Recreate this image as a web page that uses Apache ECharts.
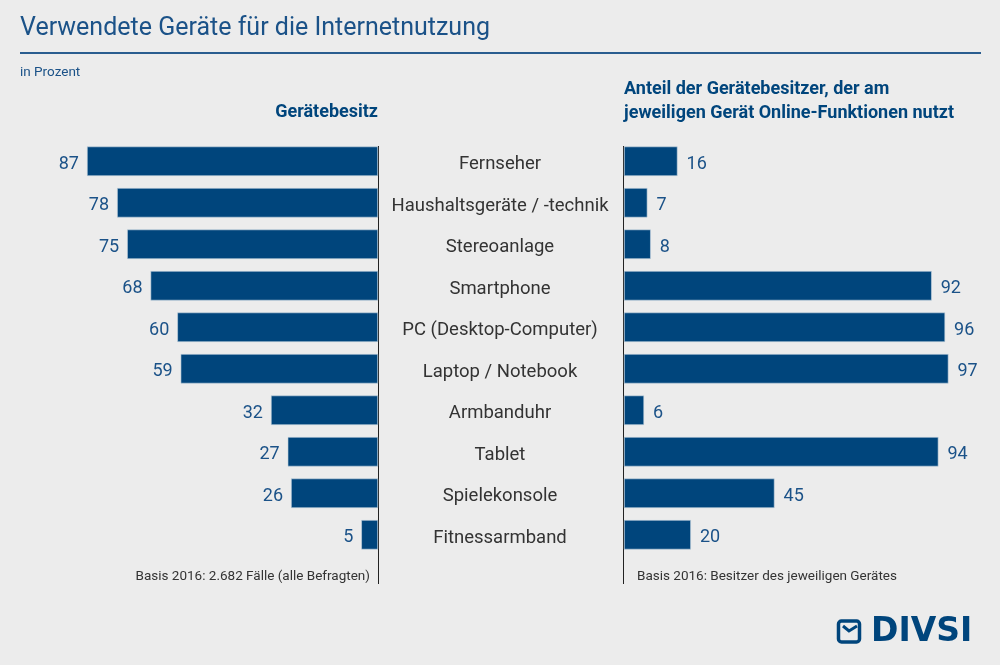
<!DOCTYPE html>
<html>
<head>
<meta charset="utf-8">
<script src="https://cdn.jsdelivr.net/npm/echarts@6/dist/echarts.min.js"></script>
<style>
html,body{margin:0;padding:0;background:#ececec;}
#chart{width:1000px;height:665px;}
</style>
</head>
<body>
<div id="chart"></div>
<script>
const categories = ["Fernseher","Haushaltsgeräte / -technik","Stereoanlage","Smartphone","PC (Desktop-Computer)","Laptop / Notebook","Armbanduhr","Tablet","Spielekonsole","Fitnessarmband"];
const ownership = [87,78,75,68,60,59,32,27,26,5];
const onlineUse = [16,7,8,92,96,97,6,94,45,20];

const FONT = 'Roboto, "Noto Sans", sans-serif';
const BLUE = '#00457c';
const TXTBLUE = '#1b5288';
const GRAY = '#333333';

const chart = echarts.init(document.getElementById('chart'));
const gridTop = 140.5, gridH = 415;
chart.setOption({
  backgroundColor: '#ececec',
  animation: false,
  textStyle: {fontFamily: FONT},
  grid: [
    {left: 43.5, width: 334.5, top: gridTop, height: gridH},
    {left: 624, width: 334.5, top: gridTop, height: gridH}
  ],
  xAxis: [
    {gridIndex: 0, type: 'value', min: 0, max: 100, inverse: true, show: false},
    {gridIndex: 1, type: 'value', min: 0, max: 100, show: false}
  ],
  yAxis: [
    {gridIndex: 0, type: 'category', data: categories, inverse: true,
     axisLine: {show: false}, axisTick: {show: false}, axisLabel: {show: false}, splitLine: {show: false}},
    {gridIndex: 1, type: 'category', data: categories, inverse: true,
     axisLine: {show: false}, axisTick: {show: false}, splitLine: {show: false},
     axisLabel: {show: true, align: 'center', margin: 124,
                 formatter: v => '{c|' + v + '}',
                 rich: {c: {color: GRAY, fontSize: 18.5, fontFamily: FONT, padding: [7, 0, 0, 0]}}}}
  ],
  series: [
    {type: 'bar', xAxisIndex: 0, yAxisIndex: 0, data: ownership, barWidth: 29.5,
     itemStyle: {color: BLUE, borderColor: '#c9d6e3', borderWidth: 0.6},
     label: {show: true, position: 'left', distance: 8, offset: [0, 3], color: TXTBLUE, fontSize: 18, fontFamily: FONT}},
    {type: 'bar', xAxisIndex: 1, yAxisIndex: 1, data: onlineUse, barWidth: 29.5,
     itemStyle: {color: BLUE, borderColor: '#c9d6e3', borderWidth: 0.6},
     label: {show: true, position: 'right', distance: 9, offset: [0, 3], color: TXTBLUE, fontSize: 18, fontFamily: FONT}}
  ],
  graphic: [
    {type: 'text', left: 20, top: 16, style: {text: 'Verwendete Geräte für die Internetnutzung', fill: TXTBLUE, font: '25px ' + FONT}},
    {type: 'line', shape: {x1: 20, y1: 53, x2: 981, y2: 53}, style: {stroke: '#2a5d8f', lineWidth: 2}},
    {type: 'text', left: 20, top: 66, style: {text: 'in Prozent', fill: TXTBLUE, font: '13.5px ' + FONT}},
    {type: 'text', right: 622, top: 103, style: {text: 'Gerätebesitz', fill: BLUE, font: 'bold 18px ' + FONT}},
    {type: 'text', left: 624, top: 77, style: {text: 'Anteil der Gerätebesitzer, der am\njeweiligen Gerät Online-Funktionen nutzt', fill: BLUE, font: 'bold 18px ' + FONT, lineHeight: 24}},
    {type: 'line', shape: {x1: 378.5, y1: 146, x2: 378.5, y2: 584}, style: {stroke: '#222', lineWidth: 1}},
    {type: 'line', shape: {x1: 623.5, y1: 146, x2: 623.5, y2: 584}, style: {stroke: '#222', lineWidth: 1}},
    {type: 'text', right: 630, top: 570, style: {text: 'Basis 2016: 2.682 Fälle (alle Befragten)', fill: GRAY, font: '13.5px ' + FONT}},
    {type: 'text', left: 637, top: 570, style: {text: 'Basis 2016: Besitzer des jeweiligen Gerätes', fill: GRAY, font: '13.5px ' + FONT}},
    {type: 'rect', shape: {x: 838.5, y: 621, width: 21, height: 21, r: 3}, style: {fill: 'none', stroke: BLUE, lineWidth: 3.5}},
    {type: 'polyline', shape: {points: [[843, 626], [849, 631], [857, 626]]}, style: {fill: 'none', stroke: BLUE, lineWidth: 3}},
    {type: 'text', left: 871, top: 616, style: {text: 'DIVSI', fill: BLUE, font: 'bold 33px "DejaVu Sans", sans-serif'}}
  ]
});
</script>
</body>
</html>
